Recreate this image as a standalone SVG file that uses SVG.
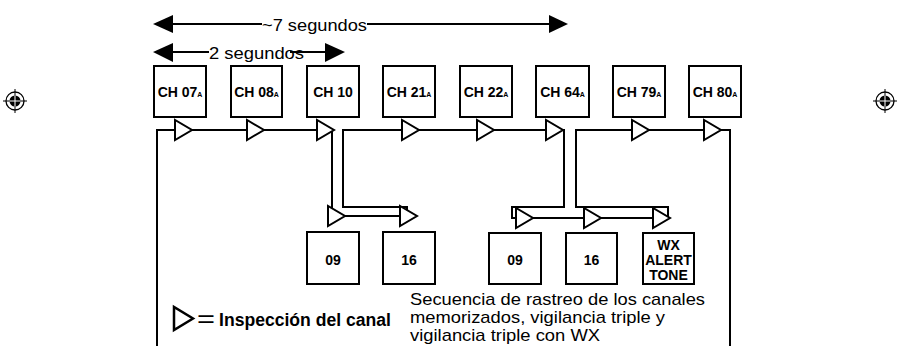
<svg xmlns="http://www.w3.org/2000/svg" width="899" height="346" viewBox="0 0 899 346">
<style>
.box{fill:#fff;stroke:#000;stroke-width:2}
.ln{fill:none;stroke:#000;stroke-width:2}
.tri{fill:#fff;stroke:#000;stroke-width:2;stroke-linejoin:miter}
.lbl{font-family:"Liberation Sans",Arial,sans-serif;font-weight:bold;font-size:14px;text-anchor:middle;fill:#000}
.sub{font-size:7px}
.txt{font-family:"Liberation Sans",Arial,sans-serif;font-size:17px;fill:#000}
</style>
<defs>
<polygon id="tri" points="0,-10 0,10 17,0" class="tri"/>
<g id="reg">
<circle cx="0" cy="0" r="9" fill="none" stroke="#000" stroke-width="1.3"/>
<circle cx="0" cy="0" r="5.5" fill="#000"/>
<path d="M-12,0H12M0,-12V12" stroke="#000" stroke-width="1"/>
<path d="M-5.5,0H5.5M0,-5.5V5.5" stroke="#fff" stroke-width="1"/>
</g>
</defs>
<rect width="899" height="346" fill="#fff"/>

<g id="marks">
<use href="#reg" x="15" y="101"/>
<use href="#reg" x="885" y="101"/>
</g>

<g id="timing">
<polygon points="153,24 173,15 173,33" fill="#000"/>
<polygon points="568,24 549,15 549,33" fill="#000"/>
<path class="ln" d="M172,24H262M367,24H550"/>
<text class="txt" x="262" y="31" textLength="105" lengthAdjust="spacingAndGlyphs">~7 segundos</text>
<polygon points="153,52 173,43 173,62" fill="#000"/>
<polygon points="345,52 325,43 325,62" fill="#000"/>
<path class="ln" d="M172,52H209M290,52H326"/>
<text class="txt" x="209" y="59" textLength="95" lengthAdjust="spacingAndGlyphs">2 segundos</text>
</g>

<g id="connectors">
<path class="ln" d="M157,346V130H332V216H402"/>
<path class="ln" d="M407,213V207H343V130H564V207H512V218H668V207H576V130H730V346"/>
<use href="#tri" x="175" y="130"/>
<use href="#tri" x="247" y="130"/>
<use href="#tri" x="317" y="130"/>
<use href="#tri" x="402" y="130"/>
<use href="#tri" x="477" y="130"/>
<use href="#tri" x="546" y="130"/>
<use href="#tri" x="632" y="130"/>
<use href="#tri" x="704" y="130"/>
<use href="#tri" x="328" y="216"/>
<use href="#tri" x="400" y="216"/>
<use href="#tri" x="516" y="218"/>
<use href="#tri" x="584" y="218"/>
<use href="#tri" x="653" y="218"/>
</g>

<g id="ch07"><rect class="box" x="154" y="66" width="52" height="51"/><text class="lbl" x="180" y="97">CH 07<tspan class="sub">A</tspan></text></g>
<g id="ch08"><rect class="box" x="231" y="66" width="51" height="51"/><text class="lbl" x="256.5" y="97">CH 08<tspan class="sub">A</tspan></text></g>
<g id="ch10"><rect class="box" x="307" y="66" width="52" height="51"/><text class="lbl" x="333" y="97">CH 10</text></g>
<g id="ch21"><rect class="box" x="383" y="66" width="52" height="51"/><text class="lbl" x="409" y="97">CH 21<tspan class="sub">A</tspan></text></g>
<g id="ch22"><rect class="box" x="460" y="66" width="52" height="51"/><text class="lbl" x="486" y="97">CH 22<tspan class="sub">A</tspan></text></g>
<g id="ch64"><rect class="box" x="536" y="66" width="53" height="51"/><text class="lbl" x="562.5" y="97">CH 64<tspan class="sub">A</tspan></text></g>
<g id="ch79"><rect class="box" x="613" y="66" width="52" height="51"/><text class="lbl" x="639" y="97">CH 79<tspan class="sub">A</tspan></text></g>
<g id="ch80"><rect class="box" x="689" y="66" width="52" height="51"/><text class="lbl" x="715" y="97">CH 80<tspan class="sub">A</tspan></text></g>

<g id="p09a"><rect class="box" x="307" y="232" width="52" height="52"/><text class="lbl" x="333" y="265">09</text></g>
<g id="p16a"><rect class="box" x="383" y="232" width="52" height="52"/><text class="lbl" x="409" y="265">16</text></g>
<g id="p09b"><rect class="box" x="489" y="233" width="52" height="51"/><text class="lbl" x="515" y="265">09</text></g>
<g id="p16b"><rect class="box" x="566" y="233" width="51" height="51"/><text class="lbl" x="591.5" y="265">16</text></g>
<g id="wx"><rect class="box" x="643" y="233" width="51" height="51"/>
<text class="lbl" x="668.5" y="250">WX</text>
<text class="lbl" x="668.5" y="265">ALERT</text>
<text class="lbl" x="668.5" y="280">TONE</text></g>

<g id="legend">
<polygon points="174,307 174,330 193,318.5" fill="#fff" stroke="#000" stroke-width="2.5"/>
<text x="197" y="327" font-family="Liberation Sans,Arial,sans-serif" font-size="24" fill="#000" textLength="18" lengthAdjust="spacingAndGlyphs">=</text>
<text x="219" y="326" font-family="Liberation Sans,Arial,sans-serif" font-size="17.5" font-weight="bold" fill="#000" textLength="172" lengthAdjust="spacingAndGlyphs">Inspección del canal</text>
</g>

<g id="caption">
<text class="txt" x="410" y="305" textLength="295" lengthAdjust="spacingAndGlyphs">Secuencia de rastreo de los canales</text>
<text class="txt" x="410" y="323" textLength="255" lengthAdjust="spacingAndGlyphs">memorizados, vigilancia triple y</text>
<text class="txt" x="410" y="341" textLength="190" lengthAdjust="spacingAndGlyphs">vigilancia triple con WX</text>
</g>
</svg>
